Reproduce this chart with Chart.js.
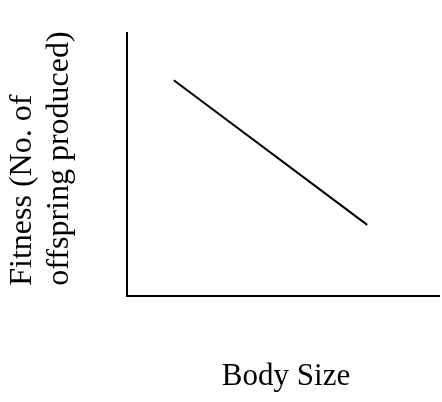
<!DOCTYPE html>
<html>
<head>
<meta charset="utf-8">
<script src="https://cdn.jsdelivr.net/npm/chart.js@4/dist/chart.umd.min.js"></script>
<style>
  html, body { margin: 0; padding: 0; background: #fff; }
  #wrap { width: 442px; height: 402px; position: relative; }
</style>
</head>
<body>
<div id="wrap"><canvas id="c"></canvas></div>
<script>
// Data (arbitrary units, axes without ticks)
const bodySize = [1.5, 7.7];
const fitness = [8.2, 2.7];
const xTitle = "Body Size";
const yTitle = ["Fitness (No. of", "offspring produced)"];

const points = bodySize.map((x, i) => ({ x: x, y: fitness[i] }));

// Small nudges of the axis titles (drawn by Chart.js itself)
const titleShift = {
  id: 'titleShift',
  afterLayout(chart) {
    const shifts = { x: [3, 0], y: [0, -10] };
    Object.keys(shifts).forEach(k => {
      const s = chart.scales[k];
      if (!s || s._shiftWrapped) return;
      const orig = s.drawTitle.bind(s);
      s.drawTitle = function () {
        const ctx = this.ctx;
        ctx.save();
        ctx.translate(shifts[k][0], shifts[k][1]);
        orig();
        ctx.restore();
      };
      s._shiftWrapped = true;
    });
  }
};

new Chart(document.getElementById('c'), {
  type: 'line',
  data: {
    datasets: [{
      data: points,
      borderColor: '#000',
      borderWidth: 2,
      pointRadius: 0,
      fill: false,
      tension: 0
    }]
  },
  options: {
    responsive: true,
    maintainAspectRatio: false,
    animation: false,
    layout: { padding: { top: 33, right: 3, left: 0, bottom: 0 } },
    plugins: { legend: { display: false }, tooltip: { enabled: false } },
    scales: {
      x: {
        type: 'linear', min: 0, max: 10,
        grid: { display: false, drawTicks: false, tickLength: 0 },
        border: { display: true, color: '#000', width: 2 },
        ticks: { display: false },
        title: {
          display: true, text: xTitle, color: '#000',
          font: { family: 'Liberation Serif', size: 31, lineHeight: 1.2 },
          padding: { top: 62, bottom: 7 }
        }
      },
      y: {
        type: 'linear', min: 0, max: 10,
        grid: { display: false, drawTicks: false, tickLength: 0 },
        border: { display: true, color: '#000', width: 2 },
        ticks: { display: false },
        title: {
          display: true, text: yTitle, color: '#000', align: 'start',
          font: { family: 'Liberation Serif', size: 32, lineHeight: 1.15 },
          padding: { top: 4, bottom: 49.4 }
        }
      }
    }
  },
  plugins: [titleShift]
});
</script>
</body>
</html>
